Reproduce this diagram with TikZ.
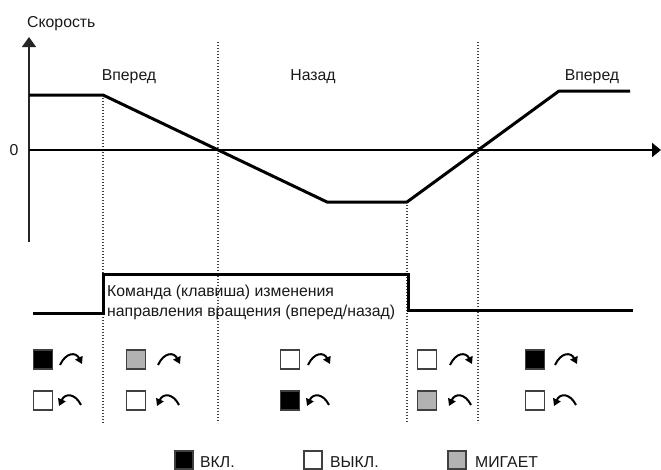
\documentclass[tikz,border=0pt]{standalone}
\usepackage{fontspec}
\setmainfont{Liberation Sans}
\usetikzlibrary{arrows.meta}
\newcommand\cwarr[2]{\draw[indarrow] (#1,#2+7) .. controls (#1+6,#2-6) and (#1+16,#2-6) .. (#1+22,#2+6);}
\newcommand\ccwarr[2]{\draw[indarrow] (#1+22,#2+6) .. controls (#1+16,#2-6) and (#1+6,#2-6) .. (#1,#2+7);}
\begin{document}
\begin{tikzpicture}[x=1pt,y=-1pt,
  txt/.style={font=\fontsize{15.8}{19}\selectfont, inner sep=0pt, text=black!90},
  axisline/.style={line width=1.3pt, draw=black!85, -{Triangle[length=10pt,width=14pt]}},
  zeroline/.style={line width=2pt, -{Triangle[length=9pt,width=14pt]}},
  speed/.style={line width=3pt, line join=round},
  signal/.style={line width=3pt},
  guide/.style={line width=1.3pt, draw=black!75, dash pattern=on 1.3pt off 1.7pt},
  lamp/.style={draw=black!75, line width=1.5pt, minimum size=19pt, inner sep=0pt, outer sep=0pt},
  lampon/.style={lamp, fill=black},
  lampoff/.style={lamp, fill=white},
  lampblink/.style={lamp, fill=gray!60},
  leg/.style={draw=black!75, line width=1.2pt, minimum size=18pt, inner sep=0pt},
  indarrow/.style={line width=2pt, -{Triangle[length=7pt,width=8pt]}}
]
\useasboundingbox (0,0) rectangle (661,469);
% guides
\draw[guide] (103,95) -- (103,423);
\draw[guide] (218,42) -- (218,423);
\draw[guide] (407,202) -- (407,423);
\draw[guide] (478,42) -- (478,423);
% axes
\coordinate (yb) at (29,242);
\coordinate (yt) at (29,37);
\coordinate (xl) at (29,150);
\coordinate (xr) at (661,150);
\draw[axisline] (yb) -- (yt);
\draw[zeroline] (xl) -- (xr);
\node[txt, anchor=base west] (vel) at (27,27) {Скорость};
\node[txt] (zero) at (14,150) {0};
% speed profile
\coordinate (s0) at (29,95);
\coordinate (s1) at (103,95);
\coordinate (s2) at (327,202);
\coordinate (s3) at (407,202);
\coordinate (s4) at (559,91);
\coordinate (s5) at (630,91);
\draw[speed] (s0) -- (s1) -- (s2) -- (s3) -- (s4) -- (s5);
\node[txt, anchor=base] (fw1) at (129,80) {Вперед};
\node[txt, anchor=base] (bw) at (313,80) {Назад};
\node[txt, anchor=base] (fw2) at (592,80) {Вперед};
% command signal
\coordinate (c0) at (33,313);
\coordinate (c1) at (103,313);
\coordinate (c2) at (103,274);
\coordinate (c3) at (408,274);
\coordinate (c4) at (408,310);
\coordinate (c5) at (633,310);
\draw[signal] (c0) -- (c1) -- (c2) -- (c3) -- (c4) -- (c5);
\node[txt, anchor=base west] (cmd1) at (107,296) {Команда (клавиша) изменения};
\node[txt, anchor=base west] (cmd2) at (107,316) {направления вращения (вперед/назад)};
% lamps
\node[lampon]    (l11) at (43,359.5) {};
\node[lampoff]   (l12) at (43,400.5) {};
\node[lampblink] (l21) at (136,359.5) {};
\node[lampoff]   (l22) at (136,400.5) {};
\node[lampoff]   (l31) at (290,359.5) {};
\node[lampon]    (l32) at (290,400.5) {};
\node[lampoff]   (l41) at (427,359.5) {};
\node[lampblink] (l42) at (427,400.5) {};
\node[lampon]    (l51) at (535,359.5) {};
\node[lampoff]   (l52) at (535,400.5) {};
\cwarr{60}{358}
\ccwarr{59}{399}
\cwarr{158}{358}
\ccwarr{157}{399}
\cwarr{308}{358}
\ccwarr{307}{399}
\cwarr{450}{358}
\ccwarr{449}{399}
\cwarr{555}{358}
\ccwarr{554}{399}
% legend
\node[leg, fill=black] (k1) at (184,460) {};
\node[txt, anchor=base west] (k1t) at (200,467) {ВКЛ.};
\node[leg, fill=white] (k2) at (313,460) {};
\node[txt, anchor=base west] (k2t) at (330,467) {ВЫКЛ.};
\node[leg, fill=gray!60] (k3) at (457,460) {};
\node[txt, anchor=base west] (k3t) at (475,467) {МИГАЕТ};
\end{tikzpicture}
\end{document}
